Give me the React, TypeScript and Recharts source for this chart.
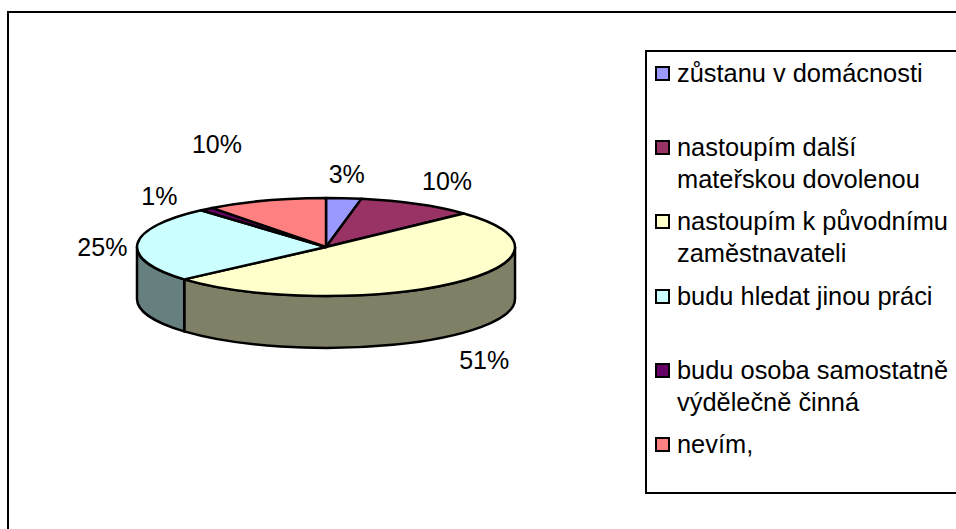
import { Legend, Pie, PieChart } from "recharts";

const categories = [
  "zůstanu v domácnosti",
  "nastoupím další mateřskou dovolenou",
  "nastoupím k původnímu zaměstnavateli",
  "budu hledat jinou práci",
  "budu osoba samostatně výdělečně činná",
  "nevím,",
];
const shares = [3, 10, 50.5, 25, 1.2, 10.3];
const colors = ["#9999FF", "#993366", "#FFFFCC", "#CCFFFF", "#660066", "#FF8080"];
const sideColors = ["#4D4D80", "#4D1A33", "#808066", "#668080", "#330033", "#804040"];

const chartData = categories.map((name, i) => ({
  name,
  value: shares[i],
  fill: colors[i],
  side: sideColors[i],
}));

const SQUASH = 49 / 189;
const DEPTH = 52;
// hand placed like the original, relative to the rim point of each slice
const labelNudge = [
  [3, -24],
  [30, -23],
  [31, 77],
  [-35, 3],
  [-47, -13],
  [-49, -57],
];

const RAD = Math.PI / 180;

function renderSlice(props: any) {
  const { cx, cy, outerRadius: rx, startAngle, endAngle, fill, payload } = props;
  const ry = rx * SQUASH;
  const at = (a: number, dy = 0) =>
    `${cx + rx * Math.cos(a * RAD)} ${cy - ry * Math.sin(a * RAD) + dy}`;
  const large = Math.abs(startAngle - endAngle) > 180 ? 1 : 0;
  const top = `M${cx} ${cy}L${at(startAngle)}A${rx} ${ry} 0 ${large} 1 ${at(endAngle)}Z`;

  // only the part of the rim facing the viewer gets a wall
  const from = Math.min(startAngle, 0);
  const to = Math.max(endAngle, -180);
  const wall =
    from > to
      ? `M${at(from)}A${rx} ${ry} 0 0 1 ${at(to)}L${at(to, DEPTH)}A${rx} ${ry} 0 0 0 ${at(from, DEPTH)}Z`
      : null;

  return (
    <g>
      {wall && <path d={wall} fill={payload?.side ?? props.side} stroke="#000" strokeWidth={2.5} />}
      <path d={top} fill={fill} stroke="#000" strokeWidth={2.5} strokeLinejoin="round" />
    </g>
  );
}

function renderLabel(props: any) {
  const { cx, cy, midAngle, outerRadius: rx, index, value } = props;
  const [dx, dy] = labelNudge[index];
  const x = cx + rx * Math.cos(midAngle * RAD) + dx;
  const y = cy - rx * SQUASH * Math.sin(midAngle * RAD) + dy;
  return (
    <text
      x={x}
      y={y}
      textAnchor="middle"
      dominantBaseline="central"
      fontFamily="Liberation Sans"
      fontSize={25}
      fill="#000"
    >
      {`${Math.round(value)}%`}
    </text>
  );
}

function renderLegend({ payload }: any) {
  return (
    <div
      style={{
        position: "absolute",
        left: 645,
        top: 50,
        width: 320,
        height: 444,
        boxSizing: "border-box",
        border: "2px solid #000",
        background: "#fff",
        fontFamily: "Liberation Sans",
        fontSize: 25.4,
        lineHeight: "32px",
        color: "#000",
      }}
    >
      {(payload ?? []).map((item: any, i: number) => (
        <div
          key={item.value}
          style={{ position: "absolute", left: 0, top: 5 + i * 74.2, width: 310, height: 64 }}
        >
          <span
            style={{
              position: "absolute",
              left: 8,
              top: 9,
              width: 15,
              height: 15,
              boxSizing: "border-box",
              border: "2px solid #000",
              background: item.color,
            }}
          />
          <div style={{ position: "absolute", left: 30, top: 0, width: 280 }}>{item.value}</div>
        </div>
      ))}
    </div>
  );
}

export default function App() {
  return (
    <div style={{ position: "absolute", left: 0, top: 0, width: 956, height: 529, overflow: "hidden", background: "#fff" }}>
      <div
        style={{
          position: "absolute",
          left: 7,
          top: 11,
          width: 1000,
          height: 600,
          borderLeft: "2px solid #000",
          borderTop: "2px solid #000",
        }}
      />
      <PieChart width={956} height={529} margin={{ top: 0, right: 0, bottom: 0, left: 0 }} style={{ position: "absolute" }}>
        <Pie
          data={chartData}
          dataKey="value"
          nameKey="name"
          cx={326}
          cy={247}
          outerRadius={189}
          startAngle={90}
          endAngle={-270}
          shape={renderSlice}
          label={renderLabel}
          labelLine={false}
          isAnimationActive={false}
        />
        <Legend
          content={renderLegend}
          itemSorter={null}
          wrapperStyle={{ position: "absolute", left: 0, top: 0, width: 0, height: 0 }}
        />
      </PieChart>
    </div>
  );
}
